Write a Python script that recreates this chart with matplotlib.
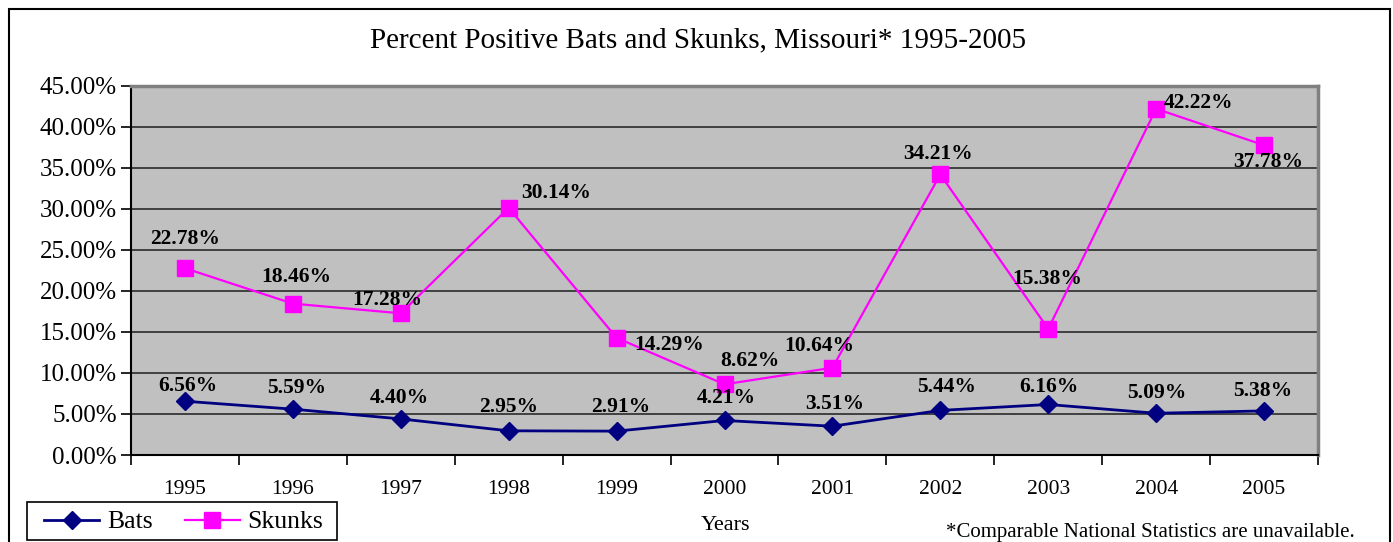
import matplotlib
matplotlib.use("Agg")
import matplotlib.pyplot as plt
from matplotlib.patches import Rectangle
from matplotlib.ticker import FuncFormatter, FixedLocator
import numpy as np

years = ["1995", "1996", "1997", "1998", "1999", "2000", "2001", "2002", "2003", "2004", "2005"]
bats = [6.56, 5.59, 4.40, 2.95, 2.91, 4.21, 3.51, 5.44, 6.16, 5.09, 5.38]
skunks = [22.78, 18.46, 17.28, 30.14, 14.29, 8.62, 10.64, 34.21, 15.38, 42.22, 37.78]

# label offsets in pixels (dx, dy) from the marker
bat_off = [(3, 15), (4, 21), (-1, 21), (0, 24), (4, 24), (2, 22), (2, 22), (6, 23), (1, 17), (1, 20), (-1, 20)]
skunk_off = [(0, 29), (3, 27), (-14, 13), (47, 15), (53, -7), (25, 23), (-13, 22), (-2, 20), (-1, 50), (42, 6), (4, -17)]

plt.rcParams['font.family'] = ['Liberation Serif', 'DejaVu Serif']

fig = plt.figure(figsize=(13.93, 5.42), dpi=100)
ax = fig.add_axes([131 / 1393, 1 - 455 / 542, (1318 - 131) / 1393, (455 - 86) / 542])

x = np.arange(len(years))
ax.set_facecolor("#C0C0C0")
ax.plot(x, bats, color="#000080", lw=2, marker="D", ms=9, label="Bats", zorder=3)
ax.plot(x, skunks, color="#FF00FF", lw=1.6, marker="s", ms=11, label="Skunks", zorder=3)

for i in range(len(years)):
    ax.annotate(f"{bats[i]:.2f}%", (x[i], bats[i]), xytext=bat_off[i], textcoords="offset pixels",
                ha="center", va="center", fontsize=15.5, fontweight="bold", zorder=4)
    ax.annotate(f"{skunks[i]:.2f}%", (x[i], skunks[i]), xytext=skunk_off[i], textcoords="offset pixels",
                ha="center", va="center", fontsize=15.5, fontweight="bold", zorder=4)

ax.set_xlim(-0.5, len(years) - 0.5)
ax.set_ylim(0, 45)
ax.set_yticks(np.arange(0, 46, 5))
ax.yaxis.set_major_formatter(FuncFormatter(lambda v, p: f"{v:.2f}%"))
ax.yaxis.grid(True, color="#404040", lw=1.4)
ax.set_axisbelow(True)

ax.set_xticks(x)
ax.set_xticklabels(years)
ax.xaxis.set_minor_locator(FixedLocator(np.arange(-0.5, len(years), 1)))
ax.tick_params(axis="x", which="major", length=0, pad=18, labelsize=15.5)
ax.tick_params(axis="x", which="minor", length=7, width=1.2, direction="out")
ax.tick_params(axis="y", length=7, width=1.2, labelsize=18, pad=3)

ax.spines["left"].set_color("black")
ax.spines["bottom"].set_color("black")
ax.spines["left"].set_linewidth(1.5)
ax.spines["bottom"].set_linewidth(1.5)
for s in ["top", "right"]:
    ax.spines[s].set_color("#808080")
    ax.spines[s].set_linewidth(2.5)

fig.text(698 / 1393, 1 - 40 / 542, "Percent Positive Bats and Skunks, Missouri* 1995-2005",
         ha="center", va="center", fontsize=21)
fig.text(725 / 1393, 1 - 526 / 542, "Years", ha="center", va="center", fontsize=16)
fig.text(1150 / 1393, 1 - 532 / 542, "*Comparable National Statistics are unavailable.",
         ha="center", va="center", fontsize=15)

# legend entries without frame, box drawn separately
leg = fig.legend(loc="center left", bbox_to_anchor=(44 / 1393, 1 - 522 / 542), borderaxespad=0, ncol=2,
                 fontsize=18.5, frameon=False, handlelength=2.15, handletextpad=0.3,
                 columnspacing=1.25, borderpad=0)
fig.patches.append(Rectangle((27 / 1393, 1 - 540 / 542), 310 / 1393, 38 / 542,
                             transform=fig.transFigure, fill=False, edgecolor="black", lw=1.2))

fig.patches.append(Rectangle((9 / 1393, -0.05), (1390 - 9) / 1393, 1.05 - 9 / 542,
                             transform=fig.transFigure, fill=False, edgecolor="black", lw=1.5))

fig.savefig("out.png", dpi=100)
